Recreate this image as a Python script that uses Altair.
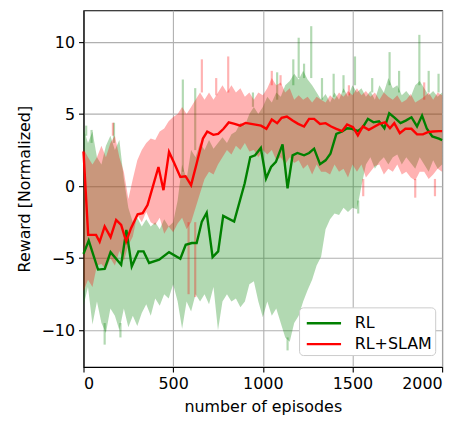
import altair as alt
import pandas as pd

# ---- raw-reward envelope (light bands), sampled every 25 episodes ----
band_ep = list(range(0, 2001, 25))
rl_hi = [4.0, 3.0, 3.8, 2.0, 1.5, 2.8, 3.5, 2.5, 3.2, 0.5,
         -1.5, -2.5, -2.2, -2.8, -2.3, -2.8, -2.5, -3.0, -2.3, -2.8,
         -2.5, -1.0, 1.5, 0.5, 2.5, 2.0, 3.0, 2.5, 3.2, 2.6,
         3.0, 3.4, 3.0, 3.6, 3.8, 4.4, 4.2, 5.0, 5.5, 5.0,
         5.5, 6.2, 5.8, 6.5, 6.2, 7.0, 7.3, 7.8, 7.4, 8.0,
         7.4, 7.0, 6.5, 6.0, 6.4, 5.8, 6.5, 6.0, 6.8, 6.2,
         7.0, 6.5, 6.8, 6.2, 6.6, 6.0, 7.0, 6.5, 7.5, 6.8,
         7.0, 6.3, 6.6, 6.2, 7.0, 7.3, 6.8, 6.3, 6.6, 6.2, 6.5]
rl_lo = [-8.3, -7.0, -9.6, -8.0, -9.5, -10.2, -8.5, -9.0, -10.0, -8.5,
         -9.8, -9.0, -9.7, -8.8, -8.2, -9.0, -7.8, -8.3, -7.5, -7.8,
         -6.8, -8.0, -9.9, -8.0, -8.7, -7.5, -8.0, -7.5, -8.2, -7.0,
         -10.0, -8.0, -7.5, -8.0, -7.8, -8.4, -8.0, -6.8, -6.6, -8.0,
         -9.1, -8.0, -9.0, -8.5, -9.5, -10.5, -10.8, -9.5, -9.0, -8.0,
         -7.2, -6.5, -5.5, -4.9, -3.0, -2.3, -1.9, -2.0, -1.5, -1.8,
         -1.5, -1.6, 0.0, 1.5, 2.0, 1.2, 1.7, 2.0, 1.5, 2.0,
         2.2, 1.5, 2.0, 1.6, 1.2, 2.0, 1.5, 1.0, 1.8, 1.2, 1.5]
slam_hi = [2.6, 2.0, 1.5, 2.0, 2.8, 2.0, 3.0, 3.5, 2.0, 1.0,
           -0.9, 0.5, 1.8, 2.5, 3.0, 3.3, 3.2, 3.8, 4.0, 4.5,
           4.8, 5.0, 5.5, 5.0, 5.5, 6.0, 6.5, 6.0, 6.5, 6.0,
           6.5, 7.0, 6.5, 7.0, 6.5, 6.8, 6.2, 6.5, 6.0, 6.5,
           6.3, 6.8, 7.5, 7.0, 7.2, 6.5, 6.8, 6.0, 6.3, 6.0,
           6.2, 5.8, 6.2, 6.0, 5.8, 6.3, 6.0, 6.5, 6.2, 6.6,
           6.3, 6.8, 6.3, 6.6, 6.2, 6.5, 6.0, 6.5, 6.2, 6.0,
           6.3, 5.8, 6.0, 6.4, 5.8, 6.0, 6.2, 6.5, 6.0, 6.5, 6.3]
slam_lo = [-7.3, -6.5, -7.0, -5.5, -5.4, -5.8, -5.0, -5.5, -4.5, -5.2,
           -4.1, -3.5, -2.0, -2.5, -1.8, -2.5, -2.7, -2.2, -3.3, -2.8,
           -3.2, -2.6, -2.2, -3.0, -2.5, -1.5, -0.5, 0.5, 1.0, 0.8,
           1.5, 2.0, 2.5, 2.2, 2.8, 2.5, 3.0, 2.4, 2.5, 2.0,
           2.5, 2.2, 2.5, 1.8, 2.0, 1.5, 2.0, 1.6, 1.8, 1.2,
           1.5, 0.8, 1.5, 1.0, 1.0, 0.8, 1.5, 1.0, 1.2, 0.6,
           1.5, 1.0, 1.5, 0.6, 1.0, 1.4, 1.5, 0.8, 1.2, 1.0,
           1.5, 0.8, 1.0, 0.6, 0.4, 1.0, 1.0, 0.5, 0.8, 1.2, 1.0]

# ---- individual raw spikes reaching beyond the envelope ----
rl_spk_ep = [15, 45, 118, 170, 206, 554, 623, 945, 1080, 1138, 1170, 1200, 1230, 1270,
             1330, 1395, 1450, 1514, 1532, 1610, 1707, 1760, 1873, 1925, 1980]
rl_spk_a = [3.5, 3.0, -9.5, 3.0, -9.5, 1.0, 2.5, 5.5, 6.0, -10.5, 7.0, 7.5, 7.5, 7.5,
            6.0, 6.2, 6.5, 7.0, -1.0, 6.5, 7.0, 6.5, 7.0, 6.5, 6.5]
rl_spk_b = [4.2, 3.9, -11.0, 4.4, -10.5, 7.4, 6.8, 6.5, 7.9, -11.4, 8.8, 10.3, 8.5, 11.1,
            7.5, 7.8, 7.7, 9.0, -1.9, 7.5, 9.3, 8.0, 10.5, 8.0, 7.8]
slam_spk_ep = [164, 586, 623, 660, 740, 807, 1050, 1099, 1480, 1560, 1850, 1900, 1960]
slam_spk_a = [3.5, -2.5, -2.5, 6.5, 6.3, 6.5, 7.0, 7.0, 6.3, 0.5, 0.5, 6.0, 0.5]
slam_spk_b = [4.4, -7.5, -7.7, 8.8, 7.5, 9.0, 8.0, 7.7, 7.0, -0.7, -0.8, 7.2, -0.7]

# ---- smoothed curves ----
rl_ep = [0, 29, 81, 118, 151, 210, 239, 269, 306, 335, 366, 422, 477, 540, 570, 604, 631,
         660, 687, 720, 751, 779, 840, 899, 930, 957, 989, 1018, 1046, 1073, 1110, 1138,
         1166, 1193, 1230, 1258, 1286, 1319, 1350, 1377, 1410, 1442, 1470, 1497, 1530,
         1558, 1586, 1617, 1648, 1678, 1705, 1736, 1768, 1797, 1829, 1860, 1888, 1915,
         1945, 1982, 2000]
rl_val = [-4.7, -3.78, -5.79, -5.75, -4.58, -5.45, -3.03, -5.58, -4.53, -4.53, -5.33, -5.1,
          -4.58, -5.04, -4.07, -3.95, -3.95, -2.46, -1.85, -4.93, -4.53, -2.06, -2.46, 0.2,
          2.02, 2.14, 2.65, 0.53, 1.33, 1.68, 2.9, -0.16, 2.14, 2.3, 2.14, 2.3, 2.6, 1.52,
          1.79, 2.25, 3.63, 3.79, 4.02, 3.98, 3.82, 4.09, 4.67, 4.43, 4.5, 4.02, 5.06, 4.74,
          4.37, 4.55, 4.78, 4.14, 4.9, 3.98, 3.45, 3.29, 3.2]
slam_ep = [0, 26, 70, 90, 118, 151, 182, 210, 238, 265, 302, 330, 357, 385, 418, 446, 477,
           505, 540, 569, 600, 632, 666, 690, 724, 751, 781, 810, 843, 874, 904, 935, 967,
           990, 1020, 1050, 1080, 1105, 1134, 1166, 1197, 1230, 1258, 1286, 1319, 1350,
           1381, 1410, 1442, 1470, 1503, 1530, 1558, 1591, 1617, 1650, 1681, 1709, 1733,
           1764, 1795, 1829, 1860, 1893, 1920, 1948, 1982, 2000]
slam_val = [2.4, -3.38, -3.38, -3.86, -2.8, -3.54, -2.34, -2.69, -3.84, -2.92, -1.95, -1.88,
            -1.31, -0.1, 1.33, -0.28, 2.37, 1.62, 0.64, 0.69, 0.07, 1.62, 3.3, 3.79, 3.56,
            3.62, 3.98, 4.42, 4.32, 4.2, 4.39, 4.32, 4.25, 4.2, 3.98, 4.62, 4.37, 4.74, 4.83,
            4.55, 4.32, 4.14, 4.67, 4.67, 4.32, 4.37, 4.14, 3.98, 3.82, 4.28, 4.09, 3.52,
            4.14, 3.91, 4.09, 4.32, 4.43, 4.02, 4.37, 3.68, 3.98, 3.98, 3.59, 3.59, 3.75,
            3.79, 3.82, 3.82]

series_names = ["RL", "RL+SLAM"]
series_colors = ["green", "red"]

FONT = "DejaVu Sans"
FS = 16

rl_band = pd.DataFrame({"episode": band_ep, "lo": rl_lo, "hi": rl_hi})
slam_band = pd.DataFrame({"episode": band_ep, "lo": slam_lo, "hi": slam_hi})
rl_spk = pd.DataFrame({"episode": rl_spk_ep, "a": rl_spk_a, "b": rl_spk_b})
slam_spk = pd.DataFrame({"episode": slam_spk_ep, "a": slam_spk_a, "b": slam_spk_b})
rl_line = pd.DataFrame({"episode": rl_ep, "reward": rl_val, "series": "RL"})
slam_line = pd.DataFrame({"episode": slam_ep, "reward": slam_val, "series": "RL+SLAM"})

xscale = alt.Scale(domain=[0, 2000], nice=False, zero=False)
yscale = alt.Scale(domain=[-12.55, 12.2], nice=False, zero=False)

xaxis = alt.Axis(values=[0, 500, 1000, 1500, 2000], title="number of episodes", format="d")
yaxis = alt.Axis(values=[-10, -5, 0, 5, 10], title="Reward [Normalized]", format="d",
                 labelExpr="replace(datum.label, '-', '\u2212')")

X = alt.X("episode:Q", scale=xscale, axis=xaxis)
Xn = alt.X("episode:Q", scale=xscale)


def band(df, color):
    return alt.Chart(df).mark_area(color=color, opacity=0.3, strokeWidth=0).encode(
        x=Xn, y=alt.Y("lo:Q", scale=yscale), y2="hi:Q")


def spikes(df, color):
    return alt.Chart(df).mark_rule(color=color, opacity=0.3, strokeWidth=2.2).encode(
        x=Xn, y=alt.Y("a:Q", scale=yscale), y2="b:Q")


color_enc = alt.Color("series:N", scale=alt.Scale(domain=series_names, range=series_colors),
                      legend=alt.Legend(title=None))


def line(df):
    return alt.Chart(df).mark_line(strokeWidth=2.4).encode(
        x=X, y=alt.Y("reward:Q", scale=yscale, axis=yaxis), color=color_enc)


chart = alt.layer(
    band(rl_band, "green"), spikes(rl_spk, "green"),
    band(slam_band, "red"), spikes(slam_spk, "red"),
    line(rl_line), line(slam_line),
).properties(
    width=361, height=359,
    autosize=alt.AutoSizeParams(type="none"),
    padding={"left": 76, "top": 1, "right": 20, "bottom": 50},
).configure_view(
    stroke="black", strokeWidth=1.1
).configure_axis(
    labelFont=FONT, titleFont=FONT, labelFontSize=FS, titleFontSize=FS,
    labelColor="black", titleColor="black", titleFontWeight="normal",
    domainColor="black", tickColor="black", tickSize=5, domainWidth=1.1, tickWidth=1.1,
    grid=True, gridColor="#b0b0b0", gridWidth=1.1, labelPadding=4,
).configure_axisX(titlePadding=7).configure_axisY(titlePadding=9).configure_legend(
    orient="none", legendX=217, legendY=299,
    fillColor="white", strokeColor="#cccccc", cornerRadius=4, padding=3,
    symbolType="M-1.5,0H1.5", symbolStrokeWidth=2.4, symbolSize=529,
    symbolOffset=9, labelFont=FONT, labelFontSize=FS, labelColor="black",
    labelOffset=18, rowPadding=0,
)

chart.save("out.html", embed_options={"renderer": "svg", "actions": False})
